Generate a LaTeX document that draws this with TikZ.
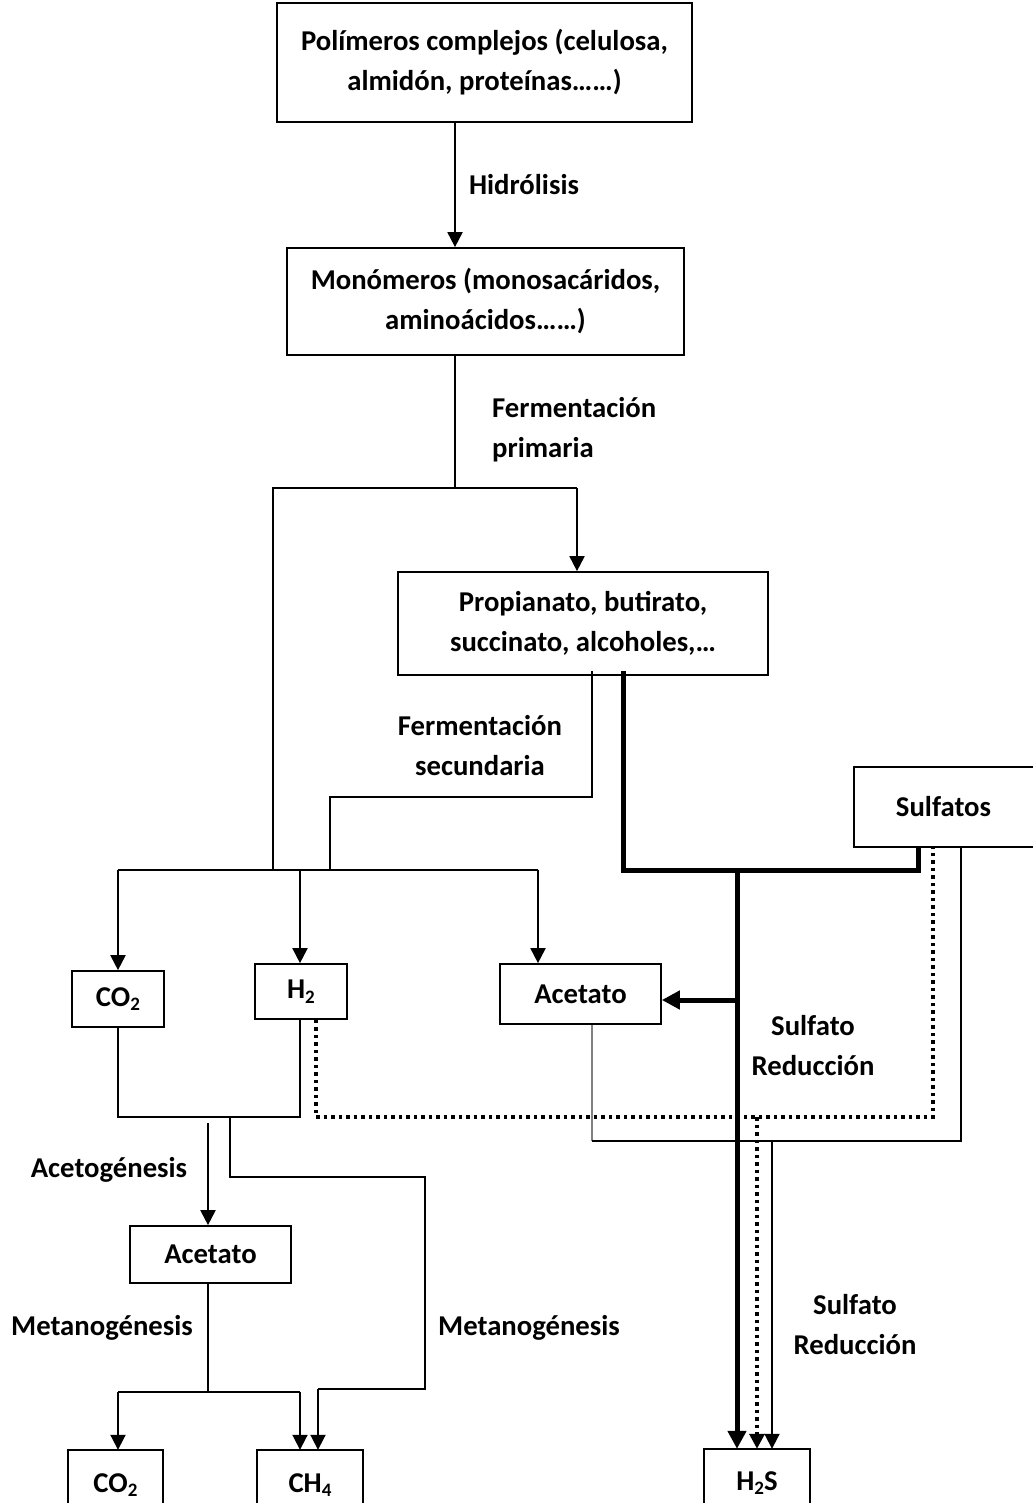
\documentclass[tikz,border=0pt]{standalone}
\usepackage{fontspec}
\setmainfont{Carlito}
\usetikzlibrary{arrows.meta}
\newcommand\lblfont{\fontsize{28.7}{40}\selectfont\bfseries}
\newcommand\sbs[1]{\raisebox{-4.5pt}{\fontsize{19}{19}\selectfont #1}}
\tikzset{
  box/.style={draw, line width=1.7pt, inner sep=0pt, align=center, font=\lblfont},
  openbox/.style={inner sep=0pt, align=center, font=\lblfont},
  lbl/.style={inner sep=0pt, align=center, font=\lblfont},
  bx/.style={line width=1.7pt},
  ln/.style={line width=1.9pt},
  thk/.style={line width=5pt},
  dotln/.style={line width=3.5pt, dash pattern=on 3.5pt off 4pt},
  tip/.style={-{Triangle[width=15pt,length=15pt]}},
  tipthk/.style={-{Triangle[width=18pt,length=18pt]}},
}
\begin{document}
\begin{tikzpicture}[x=1pt,y=-1pt]
\useasboundingbox[fill=white] (0,0) rectangle (1033,1503);
\coordinate (B) at (0,1503);
\coordinate (R) at (1033,0);
% boxes
\node[box, minimum width=415pt, minimum height=119pt] (poly) at (484.5,62.5) {Polímeros complejos (celulosa,\\almidón, proteínas……)};
\node[box, minimum width=397pt, minimum height=107pt] (mono) at (485.5,301.5) {Monómeros (monosacáridos,\\aminoácidos……)};
\node[box, minimum width=370pt, minimum height=103pt] (prop) at (583,623.5) {Propianato, butirato,\\succinato, alcoholes,…};
\node[openbox, minimum width=179pt, minimum height=80pt] (sulf) at (943.5,807) {Sulfatos};
\draw[bx] (sulf.north west -| R) -- (sulf.north west) -- (sulf.south west) -- (sulf.south west -| R);
\node[box, minimum width=92pt, minimum height=56pt] (co2a) at (118,999) {CO\sbs{2}};
\node[box, minimum width=92pt, minimum height=55pt] (h2) at (301,991.5) {H\sbs{2}};
\node[box, minimum width=161pt, minimum height=60pt] (aceta) at (580.5,994) {Acetato};
\node[box, minimum width=161pt, minimum height=57pt] (acetb) at (210.5,1254.5) {Acetato};
\node[openbox, minimum width=95pt, minimum height=70pt] (co2b) at (115.5,1485) {CO\sbs{2}};
\node[openbox, minimum width=106pt, minimum height=70pt] (ch4) at (310,1485) {CH\sbs{4}};
\node[openbox, minimum width=106pt, minimum height=68pt] (h2s) at (757,1483) {H\sbs{2}S};
\foreach \n in {co2b,ch4,h2s}
  \draw[bx] (\n.north west |- B) -- (\n.north west) -- (\n.north east) -- (\n.north east |- B);
% labels
\node[lbl] (hidro) at (524,185) {Hidrólisis};
\node[lbl, align=left, anchor=west] (fprim) at (492,430) {Fermentación\\primaria};
\node[lbl] (fsec) at (480,746) {Fermentación\\secundaria};
\node[lbl] (sr1) at (813,1046) {Sulfato\\Reducción};
\node[lbl] (sr2) at (855,1325) {Sulfato\\Reducción};
\node[lbl] (acetog) at (109,1170) {Acetogénesis};
\node[lbl] (metL) at (102,1328) {Metanogénesis};
\node[lbl] (metR) at (529,1328) {Metanogénesis};
% hydrolysis
\coordinate (hx) at (455,0);
\draw[ln,tip] (poly.south -| hx) -- (mono.north -| hx);
% primary fermentation
\coordinate (j1) at (455,488);
\draw[ln] (mono.south -| j1) -- (j1);
\coordinate (a0) at (273,870);
\coordinate (a1) at (273,488);
\coordinate (a2) at (577,488);
\draw[ln] (a0) -- (a1) -- (a2);
\draw[ln,tip] (a2) -- (a2 |- prop.north);
% secondary fermentation
\coordinate (b1) at (592,797);
\coordinate (b2) at (330,797);
\coordinate (b3) at (330,870);
\draw[ln] ([yshift=5pt]prop.south -| b1) -- (b1) -- (b2) -- (b3);
% bus
\coordinate (c1) at (118,870);
\coordinate (c2) at (300,870);
\coordinate (c3) at (538,870);
\draw[ln] (c1) -- (c3);
\draw[ln,tip] (c1) -- (co2a.north);
\draw[ln,tip] (c2) -- (c2 |- h2.north);
\draw[ln,tip] (c3) -- (c3 |- aceta.north);
% thick sulfate reduction
\coordinate (d1) at (623,870);
\coordinate (d2) at (918,870);
\coordinate (d3) at (737,870);
\coordinate (d4) at (737,1000);
\draw[thk, line join=miter] ([yshift=5pt]prop.south -| d1) -- (d1) -- (d2) -- (d2 |- sulf.south);
\draw[thk, tipthk] (d3) -- (d3 |- h2s.north);
\draw[thk, tipthk] (d4) -- (d4 -| aceta.east);
% dotted (H2)
\coordinate (e1) at (316,1117);
\coordinate (e2) at (933,1117);
\coordinate (e3) at (757,1117);
\draw[dotln] (e1 |- h2.south) -- (e1) -- (e2) -- (e2 |- sulf.south);
\draw[dotln, tip] (e3) -- (e3 |- h2s.north);
% thin (acetate)
\coordinate (f1) at (592,1141);
\coordinate (f2) at (961,1141);
\coordinate (f3) at (772,1141);
\draw[line width=1.3pt, gray] (f1 |- aceta.south) -- (f1);
\draw[ln] (f1) -- (f2) -- (f2 |- sulf.south);
\draw[ln,tip] (f3) -- (f3 |- h2s.north);
% acetogenesis
\coordinate (g1) at (118,1117);
\coordinate (g2) at (300,1117);
\draw[ln] (co2a.south) -- (g1) -- (g2) -- (g2 |- h2.south);
\coordinate (g3) at (208,1123);
\draw[ln,tip] (g3) -- (g3 |- acetb.north);
% methanogenesis right
\coordinate (h1) at (230,1117);
\coordinate (h2c) at (230,1177);
\coordinate (h3) at (425,1177);
\coordinate (h4) at (425,1389);
\coordinate (h5) at (318,1389);
\draw[ln] (h1) -- (h2c) -- (h3) -- (h4) -- (h5);
\draw[ln,tip] (h5) -- (h5 |- ch4.north);
% methanogenesis left
\coordinate (k1) at (208,1392);
\coordinate (k2) at (118,1392);
\coordinate (k3) at (300,1392);
\draw[ln] (acetb.south -| k1) -- (k1);
\draw[ln] (k2) -- (k3);
\draw[ln,tip] (k2) -- (k2 |- co2b.north);
\draw[ln,tip] (k3) -- (k3 |- ch4.north);
\end{tikzpicture}
\end{document}
